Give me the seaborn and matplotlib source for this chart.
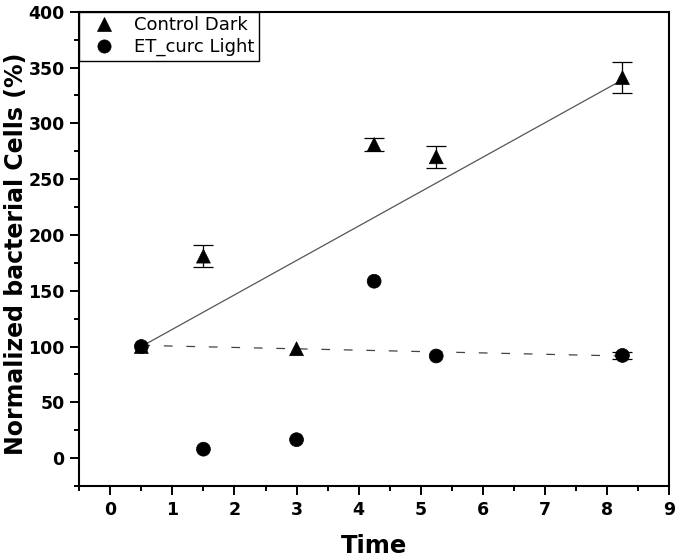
import matplotlib
matplotlib.use("Agg")
import matplotlib.pyplot as plt
import seaborn as sns
import pandas as pd
import numpy as np
from matplotlib.ticker import MultipleLocator

# ---- data ----
time_points = [0.5, 1.5, 3.0, 4.25, 5.25, 8.25]
control_dark = [100, 181, 98, 281, 270, 341]
control_dark_err = [np.nan, 10, np.nan, 6, 10, 14]
et_curc_light = [100, 8, 16.5, 158.5, 91.5, 92]
et_curc_light_err = [np.nan, np.nan, np.nan, np.nan, np.nan, 3]
series_names = ["Control Dark", "ET_curc Light"]

fit_x = [0.5, 8.25]
fit_control = [100, 339]
fit_light = [101, 91.5]

x_ticks = [0, 1, 2, 3, 4, 5, 6, 7, 8, 9]
y_ticks = [0, 50, 100, 150, 200, 250, 300, 350, 400]

df = pd.DataFrame({
    "Time": time_points * 2,
    "value": control_dark + et_curc_light,
    "err": control_dark_err + et_curc_light_err,
    "series": [series_names[0]] * len(time_points) + [series_names[1]] * len(time_points),
})

sns.set_style("ticks")
plt.rcParams["font.family"] = ["DejaVu Sans"]
plt.rcParams["text.color"] = "black"
plt.rcParams["axes.labelcolor"] = "black"
plt.rcParams["xtick.color"] = "black"
plt.rcParams["ytick.color"] = "black"

fig = plt.figure(figsize=(6.77, 5.59), dpi=100)
ax = fig.add_axes([0.1171, 0.1306, 0.9882 - 0.1171, 0.979 - 0.1306])

# fit lines
sns.lineplot(x=fit_x, y=fit_control, ax=ax, color="#555555", lw=0.9, zorder=1)
sns.lineplot(x=fit_x, y=fit_light, ax=ax, color="#444444", lw=0.9, zorder=1)
ax.lines[-1].set_dashes((7, 11))

# error bars
for name in series_names:
    sub = df[(df.series == name) & df.err.notna()]
    ax.errorbar(sub.Time, sub.value, yerr=sub.err, fmt="none", ecolor="black",
                elinewidth=0.9, capsize=7, capthick=0.9, zorder=2)

sns.scatterplot(data=df, x="Time", y="value", style="series",
                markers={series_names[0]: "^", series_names[1]: "o"},
                color="black", s=100, edgecolor="black", linewidth=0.5, ax=ax, zorder=3, legend=True)

ax.set_xlim(-0.5, 9)
ax.set_ylim(-25, 400)
ax.set_xticks(x_ticks)
ax.set_yticks(y_ticks)
ax.xaxis.set_minor_locator(MultipleLocator(0.5))
ax.yaxis.set_minor_locator(MultipleLocator(25))
ax.tick_params(axis="both", which="major", direction="out", length=6.5, width=1.4,
               labelsize=12.5, top=False, right=False, pad=4, colors="black")
ax.tick_params(axis="both", which="minor", direction="out", length=3.5, width=1.4,
               top=False, right=False, colors="black")
for lab in ax.get_xticklabels() + ax.get_yticklabels():
    lab.set_fontweight("bold")
for sp in ax.spines.values():
    sp.set_visible(True)
    sp.set_linewidth(1.5)
    sp.set_color("black")

ax.set_xlabel("Time", fontsize=17.5, fontweight="bold", labelpad=11, color="black")
ax.set_ylabel("Normalized bacterial Cells (%)", fontsize=17, fontweight="bold",
              color="black", va="center")
ax.yaxis.set_label_coords(-0.108, 0.49)

handles, labels = ax.get_legend_handles_labels()
leg = ax.legend(handles=handles[-2:], labels=labels[-2:], loc="upper left",
                bbox_to_anchor=(0, 1), borderaxespad=0, frameon=True, fancybox=False,
                framealpha=1, edgecolor="black", fontsize=13, handletextpad=0.6,
                labelspacing=0.2, borderpad=0.25, handlelength=2.2, markerscale=0.95)
leg.get_frame().set_linewidth(1.0)
for t in leg.get_texts():
    t.set_color("black")

fig.savefig("out.png", dpi=100)
